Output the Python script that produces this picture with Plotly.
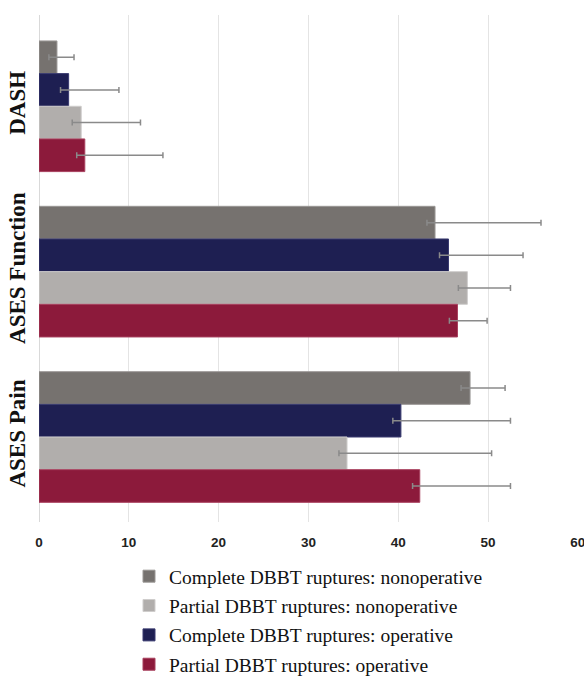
import plotly.graph_objects as go

# Outcome measures (top to bottom)
measures = ["DASH", "ASES Function", "ASES Pain"]

# Mean scores per group, in measure order
complete_nonop = [2.0, 44.1, 48.0]
complete_op = [3.3, 45.6, 40.3]
partial_nonop = [4.7, 47.7, 34.3]
partial_op = [5.1, 46.6, 42.4]

# Upper / lower error extents
complete_nonop_err = [1.9, 11.8, 3.9]
complete_op_err = [5.6, 8.3, 12.2]
partial_nonop_err = [6.6, 4.8, 16.1]
partial_op_err = [8.7, 3.3, 10.1]

complete_nonop_errm = [0.9, 0.9, 1.0]
complete_op_errm = [0.9, 1.0, 0.9]
partial_nonop_errm = [1.0, 1.0, 0.9]
partial_op_errm = [0.9, 0.9, 0.8]

x_ticks = [0, 10, 20, 30, 40, 50, 60]

series = [
    ("Complete DBBT ruptures: nonoperative", complete_nonop, complete_nonop_err,
     complete_nonop_errm, "#76726f", "#9a9795", 1),
    ("Complete DBBT ruptures: operative", complete_op, complete_op_err,
     complete_op_errm, "#1e1f52", "#3a3b70", 3),
    ("Partial DBBT ruptures: nonoperative", partial_nonop, partial_nonop_err,
     partial_nonop_errm, "#b1aeac", "#cfcdcc", 2),
    ("Partial DBBT ruptures: operative", partial_op, partial_op_err,
     partial_op_errm, "#8c1a3b", "#a8405e", 4),
]

fig = go.Figure()
for name, vals, err, errm, color, edge, rank in series:
    fig.add_trace(go.Bar(
        y=measures, x=vals, orientation="h", name=name,
        marker=dict(color=color, line=dict(color=edge, width=1)),
        error_x=dict(type="data", symmetric=False, array=err, arrayminus=errm,
                     color="#8a8a8a", thickness=1.5, width=3),
        legendrank=rank, legendgroup=name,
    ))

W, H = 584, 677
L, R, T, B = 39, 6, 15, 522
plot_w = W - L - R
plot_h = B - T
fig.update_layout(
    width=W, height=H,
    margin=dict(l=L, r=R, t=T, b=H - B, autoexpand=False),
    paper_bgcolor="white", plot_bgcolor="white",
    barmode="group", bargap=0.21, bargroupgap=0,
    showlegend=True,
    legend=dict(
        orientation="v", x=(129 - L) / plot_w, xanchor="left",
        y=-(557 - B) / plot_h, yanchor="top",
        font=dict(family="Liberation Serif", size=19.5, color="#111"),
        itemwidth=30, tracegroupgap=1,
        bgcolor="rgba(0,0,0,0)",
    ),
    xaxis=dict(
        range=[0, 60.02], tickvals=x_ticks, ticktext=[str(t) for t in x_ticks],
        showgrid=True, gridcolor="#e4e4e4", gridwidth=1,
        zeroline=True, zerolinecolor="#d9d9d9", zerolinewidth=1,
        showline=False, ticks="", ticklabelstandoff=10,
        ticklabeloverflow="allow",
        tickfont=dict(family="Liberation Sans", size=13.5, color="#222", weight="bold"),
    ),
    yaxis=dict(
        type="category", categoryorder="array", categoryarray=measures,
        range=[2.514, -0.552],
        tickangle=-90, ticks="", showline=False, showgrid=False,
        ticklabelstandoff=8,
        tickfont=dict(family="Liberation Serif", size=23, color="#111", weight="bold"),
    ),
)

fig.write_html("out.html")
